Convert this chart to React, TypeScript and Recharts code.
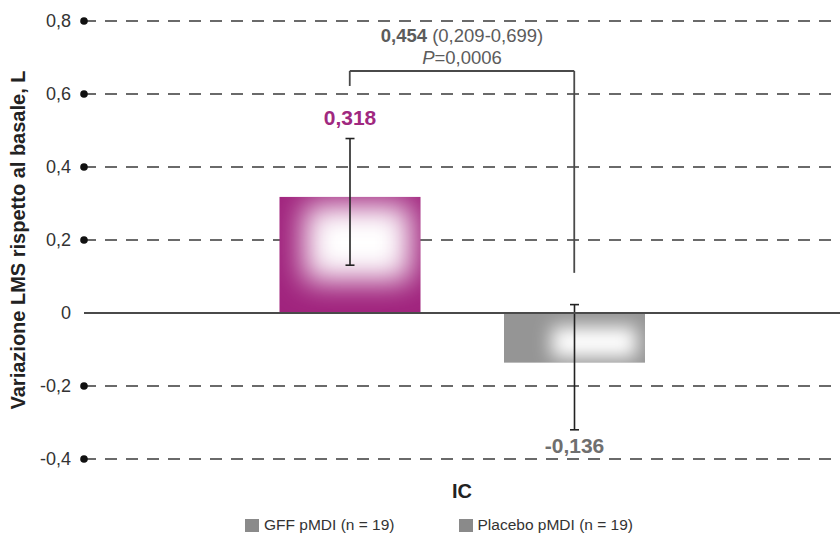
import React from 'react';
import {
  BarChart,
  Bar,
  XAxis,
  YAxis,
  CartesianGrid,
  ReferenceLine,
  ErrorBar,
  LabelList,
  Legend,
} from 'recharts';

// ---- data ----
const categories = ['GFF pMDI (n = 19)', 'Placebo pMDI (n = 19)'];
const lsmValues = [0.318, -0.136];
const errLow = [0.187, 0.184];
const errHigh = [0.16, 0.159];
const valueLabels = ['0,318', '-0,136'];
const barColors = ['#a0237d', '#959595'];
const labelColors = ['#a0287f', '#6f6f6f'];
const legendColors = ['#8a8a8a', '#8a8a8a'];
const yTicks = [-0.4, -0.2, 0, 0.2, 0.4, 0.6, 0.8];
const yTickLabels = ['-0,4', '-0,2', '0', '0,2', '0,4', '0,6', '0,8'];
const bracketTop = 0.663;
const bracketLeftEnd = 0.622;
const bracketRightEnd = 0.11;
const diffValue = '0,454';
const diffCI = '(0,209-0,699)';
const pLabel = 'P';
const pValue = '=0,0006';
const xAxisTitle = 'IC';
const yAxisTitle = 'Variazione LMS rispetto al basale, L';

const data = categories.map((c, i) => ({
  name: c,
  value: lsmValues[i],
  err: [errLow[i], errHigh[i]],
}));

const FONT = "'Liberation Sans', Arial, Helvetica, sans-serif";

// highlight placement (fractions of bar box) for the soft white glow
const glow = [
  { x0: 0.18, y0: 0.07, x1: 0.93, y1: 0.72, blur: 15 },
  { x0: 0.34, y0: 0.28, x1: 0.94, y1: 0.9, blur: 9 },
];

const GlowBar = (props: any) => {
  const { x, y, width, height } = props;
  let index = props.index;
  if (index === undefined || index === null) index = lsmValues.indexOf(props.value);
  const top = Math.min(y, y + height);
  const h = Math.abs(height);
  const g = glow[index];
  const clipId = `barclip${index}`;
  return (
    <g>
      <defs>
        <clipPath id={clipId}>
          <rect x={x} y={top} width={width} height={h} />
        </clipPath>
        <filter
          id={`blur${index}`}
          filterUnits="userSpaceOnUse"
          x={x - 80}
          y={top - 80}
          width={width + 160}
          height={h + 160}
        >
          <feGaussianBlur stdDeviation={g.blur} />
        </filter>
      </defs>
      <rect x={x} y={top} width={width} height={h} fill={barColors[index]} />
      <g clipPath={`url(#${clipId})`}>
        <rect
          x={x + width * g.x0}
          y={top + h * g.y0}
          width={width * (g.x1 - g.x0)}
          height={h * (g.y1 - g.y0)}
          fill="#ffffff"
          filter={`url(#blur${index})`}
        />
      </g>
    </g>
  );
};

const YTick = (props: any) => {
  const { x, y, payload } = props;
  const idx = yTicks.indexOf(payload.value);
  const label = idx >= 0 ? yTickLabels[idx] : String(payload.value);
  return (
    <g>
      {payload.value !== 0 && <circle cx={x} cy={y} r={3.8} fill="#111" />}
      <text
        x={x - 13}
        y={y}
        textAnchor="end"
        dominantBaseline="central"
        fontSize={18}
        fill="#333"
        fontFamily={FONT}
      >
        {label}
      </text>
    </g>
  );
};

const BarValueLabel = (props: any) => {
  const { x, y, width, height, value } = props;
  let index = props.index;
  if (index === undefined || index === null) index = lsmValues.indexOf(value);
  const top = Math.min(y, y + height);
  const bottom = Math.max(y, y + height);
  const ppu = Math.abs(height) / Math.abs(value);
  const cx = x + width / 2;
  const cy = value >= 0 ? top - errHigh[index] * ppu - 21 : bottom + errLow[index] * ppu + 16;
  return (
    <text
      x={cx}
      y={cy}
      textAnchor="middle"
      dominantBaseline="central"
      fontSize={21}
      fontWeight="bold"
      fill={labelColors[index]}
      fontFamily={FONT}
    >
      {valueLabels[index]}
    </text>
  );
};

const DiffLabel = (props: any) => {
  const vb = props.viewBox || {};
  const cx = (vb.x ?? 0) + (vb.width ?? 0) / 2;
  const y = vb.y ?? 0;
  return (
    <g fontFamily={FONT} fill="#5c5c5c">
      <text x={cx} y={y - 36} textAnchor="middle" dominantBaseline="central" fontSize={18.5}>
        <tspan fontWeight="bold">{diffValue}</tspan>
        <tspan> {diffCI}</tspan>
      </text>
      <text x={cx} y={y - 14} textAnchor="middle" dominantBaseline="central" fontSize={18.5}>
        <tspan fontStyle="italic">{pLabel}</tspan>
        <tspan>{pValue}</tspan>
      </text>
    </g>
  );
};

const YTitle = (props: any) => {
  const vb = props.viewBox || { x: 0, y: 0, width: 84, height: 438 };
  const cy = vb.y + vb.height / 2;
  const cx = 18;
  return (
    <text
      x={cx}
      y={cy}
      transform={`rotate(-90, ${cx}, ${cy})`}
      textAnchor="middle"
      dominantBaseline="central"
      fontSize={20}
      fontWeight="bold"
      fill="#222"
      fontFamily={FONT}
    >
      {yAxisTitle}
    </text>
  );
};

const XTitle = (props: any) => {
  const vb = props.viewBox || { x: 84, y: 459, width: 756, height: 40 };
  return (
    <text
      x={vb.x + vb.width / 2}
      y={vb.y + 32}
      textAnchor="middle"
      dominantBaseline="central"
      fontSize={20}
      fontWeight="bold"
      fill="#222"
      fontFamily={FONT}
    >
      {xAxisTitle}
    </text>
  );
};

const LegendContent = () => (
  <div
    style={{
      display: 'flex',
      alignItems: 'center',
      height: 26,
      paddingLeft: 245,
      fontFamily: FONT,
      fontSize: 15.5,
      color: '#333',
    }}
  >
    {categories.map((c, i) => (
      <div key={c} style={{ display: 'flex', alignItems: 'center', marginRight: 64 }}>
        <span
          style={{
            display: 'inline-block',
            width: 14,
            height: 13,
            background: legendColors[i],
            marginRight: 5,
          }}
        />
        <span>{c}</span>
      </div>
    ))}
  </div>
);

export default function App() {
  return (
    <div style={{ position: 'absolute', left: 0, top: 0, width: 840, height: 545, background: '#fff' }}>
      <BarChart
        width={840}
        height={545}
        data={data}
        margin={{ top: 21, right: 0, bottom: 20, left: 0 }}
      >
        <CartesianGrid vertical={false} stroke="#3a3a3a" strokeWidth={1.3} strokeDasharray="12 9" />
        <XAxis
          dataKey="name"
          tick={false}
          axisLine={false}
          tickLine={false}
          height={40}
          padding={{ left: 153.5, right: 153.5 }}
          label={XTitle}
        />
        <YAxis
          domain={[-0.4, 0.8]}
          ticks={yTicks}
          width={84}
          axisLine={false}
          tickLine={false}
          tickSize={0}
          tickMargin={0}
          tick={YTick}
          interval={0}
          label={YTitle}
        />
        <Legend
          verticalAlign="bottom"
          content={LegendContent}
          wrapperStyle={{ left: 0, top: 512, width: 840, height: 26 }}
        />
        <Bar dataKey="value" barSize={141} isAnimationActive={false} shape={GlowBar}>
          <ErrorBar dataKey="err" width={4.5} stroke="#222" strokeWidth={1.6} direction="y" />
          <LabelList dataKey="value" content={BarValueLabel} />
        </Bar>
        <ReferenceLine y={0} stroke="#4a4a4a" strokeWidth={1.8} />
        <ReferenceLine
          segment={[
            { x: categories[0], y: bracketLeftEnd },
            { x: categories[0], y: bracketTop },
          ]}
          stroke="#4a4a4a"
          strokeWidth={1.8}
        />
        <ReferenceLine
          segment={[
            { x: categories[0], y: bracketTop },
            { x: categories[1], y: bracketTop },
          ]}
          stroke="#4a4a4a"
          strokeWidth={1.8}
          label={DiffLabel}
        />
        <ReferenceLine
          segment={[
            { x: categories[1], y: bracketTop },
            { x: categories[1], y: bracketRightEnd },
          ]}
          stroke="#4a4a4a"
          strokeWidth={1.8}
        />
      </BarChart>
    </div>
  );
}
